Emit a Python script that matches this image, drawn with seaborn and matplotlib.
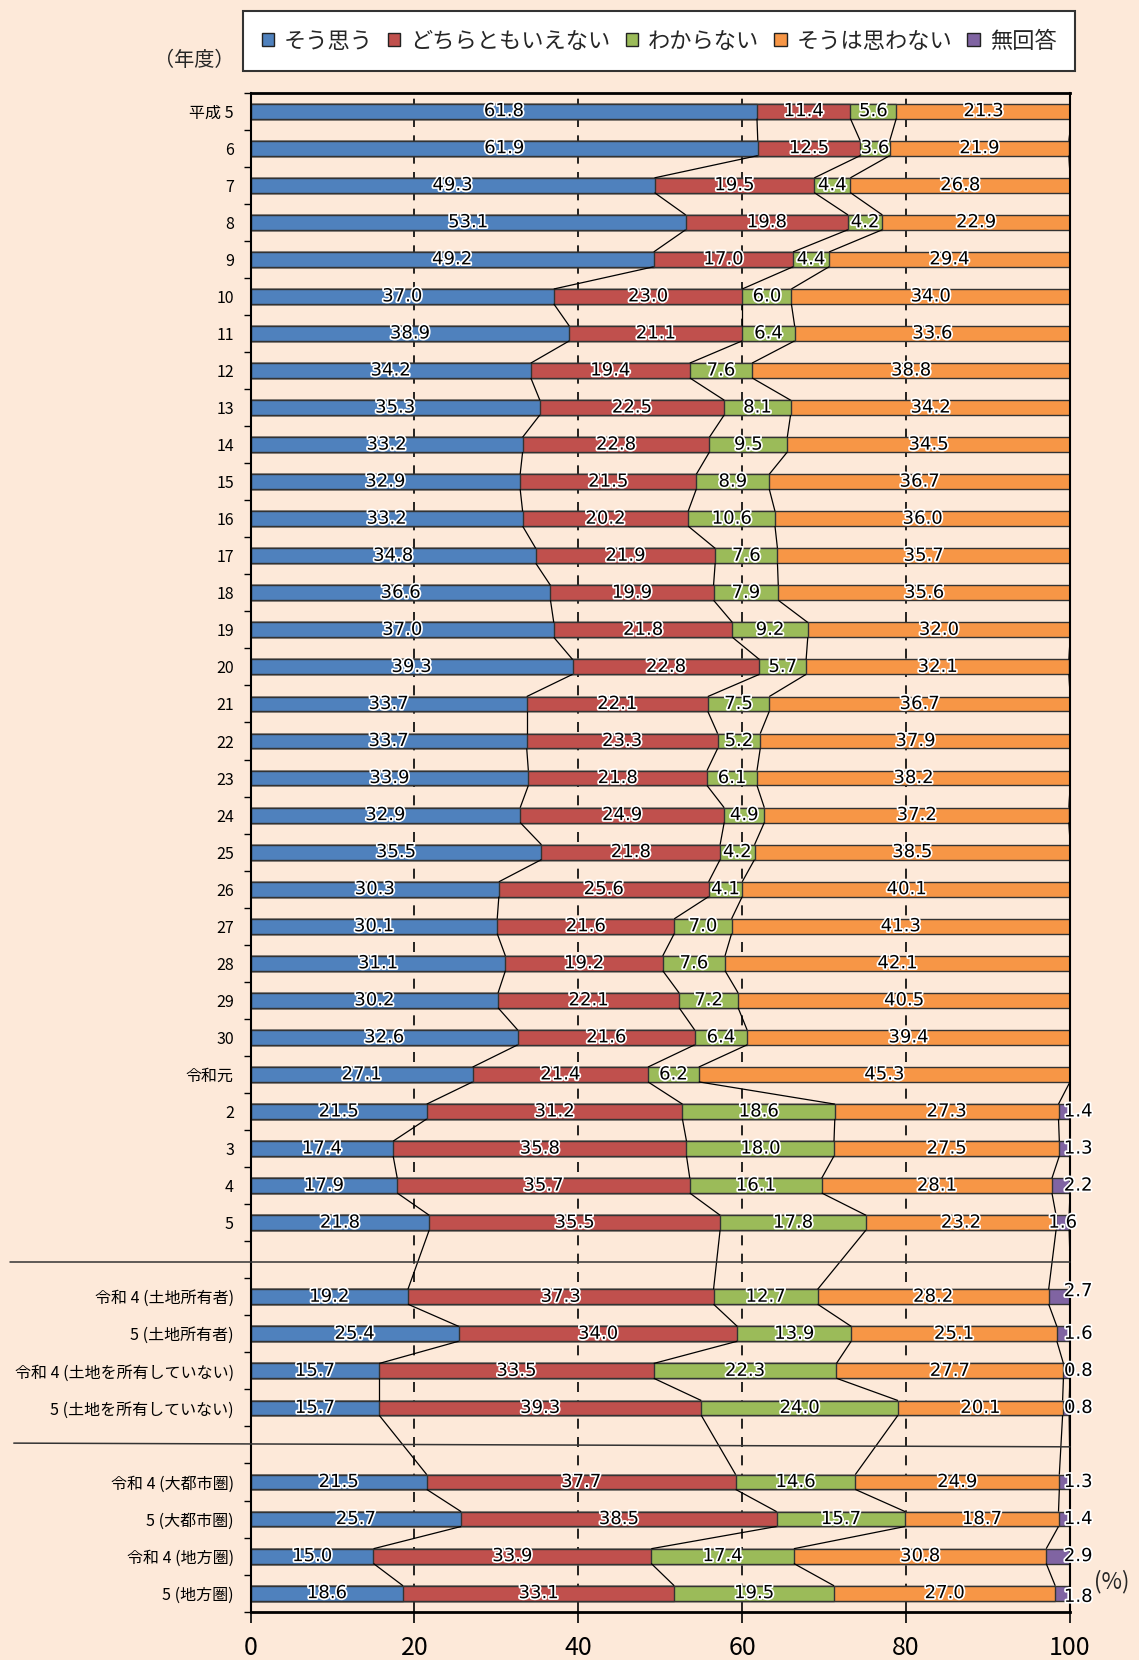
import numpy as np
import pandas as pd
import matplotlib
matplotlib.use("Agg")
import matplotlib.pyplot as plt
import matplotlib.patheffects as pe
from matplotlib.patches import Patch
from matplotlib.transforms import blended_transform_factory
import seaborn as sns

# ---- data -------------------------------------------------------------
rows = [
    "平成 5", "6", "7", "8", "9", "10", "11", "12", "13", "14", "15", "16",
    "17", "18", "19", "20", "21", "22", "23", "24", "25", "26", "27", "28",
    "29", "30", "令和元", "2", "3", "4", "5",
    "令和 4 (土地所有者)", "5 (土地所有者)",
    "令和 4 (土地を所有していない)", "5 (土地を所有していない)",
    "令和 4 (大都市圏)", "5 (大都市圏)", "令和 4 (地方圏)", "5 (地方圏)",
]

series = ["そう思う", "どちらともいえない", "わからない", "そうは思わない", "無回答"]

agree = [61.8, 61.9, 49.3, 53.1, 49.2, 37.0, 38.9, 34.2, 35.3, 33.2, 32.9, 33.2,
         34.8, 36.6, 37.0, 39.3, 33.7, 33.7, 33.9, 32.9, 35.5, 30.3, 30.1, 31.1,
         30.2, 32.6, 27.1, 21.5, 17.4, 17.9, 21.8,
         19.2, 25.4, 15.7, 15.7, 21.5, 25.7, 15.0, 18.6]
neutral = [11.4, 12.5, 19.5, 19.8, 17.0, 23.0, 21.1, 19.4, 22.5, 22.8, 21.5, 20.2,
           21.9, 19.9, 21.8, 22.8, 22.1, 23.3, 21.8, 24.9, 21.8, 25.6, 21.6, 19.2,
           22.1, 21.6, 21.4, 31.2, 35.8, 35.7, 35.5,
           37.3, 34.0, 33.5, 39.3, 37.7, 38.5, 33.9, 33.1]
unknown = [5.6, 3.6, 4.4, 4.2, 4.4, 6.0, 6.4, 7.6, 8.1, 9.5, 8.9, 10.6,
           7.6, 7.9, 9.2, 5.7, 7.5, 5.2, 6.1, 4.9, 4.2, 4.1, 7.0, 7.6,
           7.2, 6.4, 6.2, 18.6, 18.0, 16.1, 17.8,
           12.7, 13.9, 22.3, 24.0, 14.6, 15.7, 17.4, 19.5]
disagree = [21.3, 21.9, 26.8, 22.9, 29.4, 34.0, 33.6, 38.8, 34.2, 34.5, 36.7, 36.0,
            35.7, 35.6, 32.0, 32.1, 36.7, 37.9, 38.2, 37.2, 38.5, 40.1, 41.3, 42.1,
            40.5, 39.4, 45.3, 27.3, 27.5, 28.1, 23.2,
            28.2, 25.1, 27.7, 20.1, 24.9, 18.7, 30.8, 27.0]
no_answer = [None] * 27 + [1.4, 1.3, 2.2, 1.6,
                           2.7, 1.6, 0.8, 0.8, 1.3, 1.4, 2.9, 1.8]

# category slots, with an empty slot before each breakdown group
order = rows[:31] + [" "] + rows[31:35] + ["  "] + rows[35:]

# ---- style ------------------------------------------------------------
BG = "#FDE9D9"
colors = ["#4F81BD", "#C0504D", "#9BBB59", "#F79646", "#8064A2"]
EDGE = "#333333"

sns.set_style("ticks")
plt.rcParams["font.family"] = ["Noto Sans CJK JP", "DejaVu Sans"]

df = pd.DataFrame({"row": rows, "s0": agree, "s1": neutral, "s2": unknown,
                   "s3": disagree, "s4": no_answer}).astype({"s4": float})
vals = df[["s0", "s1", "s2", "s3", "s4"]].to_numpy(dtype=float)
cum = np.nancumsum(vals, axis=1)
for k in range(5):
    df[f"cum{k}"] = cum[:, k]

fig = plt.figure(figsize=(11.39, 16.6), dpi=100, facecolor=BG)
ax = fig.add_axes([0.2200, 0.0291, 0.7194, 0.9151])
ax.set_facecolor(BG)

# stacked bars: draw cumulative totals from the widest layer down
for k in range(4, -1, -1):
    sub = df if k < 4 else df[df["s4"].notna()]
    sns.barplot(data=sub, x=f"cum{k}", y="row", order=order, orient="y",
                color=colors[k], saturation=1, width=0.4, edgecolor=EDGE,
                linewidth=1.0, errorbar=None, ax=ax, zorder=2)

pos = {r: order.index(r) for r in rows}
half = 0.2

# series lines joining the segment boundaries of consecutive bars
for i in range(len(rows) - 1):
    y1 = pos[rows[i]] + half
    y2 = pos[rows[i + 1]] - half
    for k in range(5):
        ax.plot([cum[i, k], cum[i + 1, k]], [y1, y2], color="black",
                lw=0.9, zorder=3, solid_capstyle="butt")

# value labels
halo = [pe.withStroke(linewidth=2.5, foreground="white")]
extra_offset = {"5": (-1.9, 0.0), "令和 4 (土地所有者)": (0.0, -0.15),
                "5 (地方圏)": (0.0, 0.1)}
for i, r in enumerate(rows):
    y = pos[r]
    for k in range(5):
        v = vals[i, k]
        if np.isnan(v):
            continue
        if k < 4:
            x = cum[i, k] - v / 2
            dy = 0.0
        else:
            dx, dy = extra_offset.get(r, (0.0, 0.0))
            x = 101.0 + dx
        ax.text(x, y + dy, f"{v:.1f}", ha="center", va="center",
                fontsize=13, family="DejaVu Sans", color="black",
                path_effects=halo, zorder=5, clip_on=False)

# axes, grid and ticks
ax.set_xlim(0, 100)
ax.set_ylim(len(order) - 0.5, -0.5)
ax.set_xlabel("")
ax.set_ylabel("")
ax.set_xticks(range(0, 101, 20))
ax.set_xticklabels([str(t) for t in range(0, 101, 20)], fontsize=18)
ax.set_axisbelow(True)
ax.xaxis.grid(True, color="black", linestyle=(0, (6, 5)), lw=1.2, zorder=0)
ax.yaxis.grid(False)
ax.tick_params(axis="x", direction="out", length=8, width=1.2, pad=9,
               colors="black")
ax.tick_params(axis="y", which="major", length=0, pad=12, labelsize=11.5,
               colors="black")
ax.set_yticks(np.arange(-0.5, len(order), 1.0), minor=True)
ax.tick_params(axis="y", which="minor", direction="out", length=5, width=1.0,
               color="black")
for side, lw in [("top", 2.0), ("bottom", 2.0), ("left", 1.5), ("right", 1.5)]:
    ax.spines[side].set_visible(True)
    ax.spines[side].set_color("black")
    ax.spines[side].set_linewidth(lw)

# group separators
tr = blended_transform_factory(ax.transAxes, ax.transData)
ax.plot([-0.294, 1.0], [31.05, 31.05], transform=tr, clip_on=False,
        color="#333333", lw=1.1, zorder=4)
ax.plot([-0.289, 1.0], [35.95, 36.05], transform=tr, clip_on=False,
        color="#333333", lw=1.1, zorder=4)

# legend
handles = [Patch(facecolor=c, edgecolor="#222222", linewidth=1.0) for c in colors]
leg = fig.legend(handles, series, loc="upper left",
                 bbox_to_anchor=(243 / 1139, 1 - 10.7 / 1660), ncol=5,
                 fontsize=16, frameon=True, fancybox=False, edgecolor="#333333",
                 facecolor="white", framealpha=1, handlelength=0.55,
                 handleheight=0.55, handletextpad=0.45, columnspacing=0.68,
                 borderpad=0.85, borderaxespad=0)
leg.get_frame().set_linewidth(1.5)

fig.text(194 / 1139, 1 - 60 / 1660, "（年度）", ha="center", va="center",
         fontsize=14.5)
fig.text(1112 / 1139, 1 - 1582 / 1660, "(%)", ha="center", va="center",
         fontsize=16)

fig.savefig("out.png", dpi=100, facecolor=BG)
